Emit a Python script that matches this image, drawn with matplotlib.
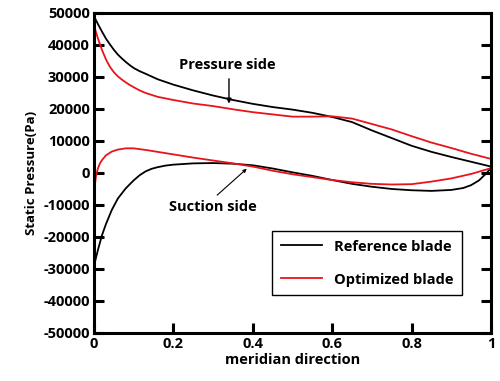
import matplotlib
matplotlib.use("Agg")
import matplotlib.pyplot as plt

plt.rcParams['font.family'] = ['Open Sans', 'DejaVu Sans']
plt.rcParams['font.weight'] = 'bold'

x_ref_ps = [0, 0.01, 0.02, 0.03, 0.04, 0.05, 0.06, 0.07, 0.08, 0.09, 0.10, 0.115, 0.13,
            0.16, 0.2, 0.25, 0.3, 0.35, 0.4, 0.45, 0.5, 0.55, 0.6, 0.65, 0.7, 0.75, 0.8,
            0.85, 0.9, 0.95, 1.0]
y_ref_ps = [49000, 46500, 44200, 42000, 40200, 38500, 37000, 35800, 34700, 33700, 32800,
            31800, 31000, 29300, 27600, 25800, 24200, 22800, 21600, 20600, 19800, 18800,
            17500, 15900, 13300, 10900, 8500, 6600, 5000, 3500, 2000]

x_opt_ps = [0, 0.01, 0.02, 0.03, 0.04, 0.05, 0.06, 0.07, 0.08, 0.09, 0.10, 0.115, 0.13,
            0.16, 0.2, 0.25, 0.3, 0.35, 0.4, 0.45, 0.5, 0.55, 0.6, 0.65, 0.7, 0.75, 0.8,
            0.85, 0.9, 0.95, 1.0]
y_opt_ps = [46000, 42000, 38500, 35500, 33200, 31500, 30200, 29200, 28300, 27500, 26800,
            25800, 25000, 23800, 22800, 21700, 20900, 19900, 19000, 18300, 17600, 17600,
            17700, 17000, 15300, 13600, 11500, 9500, 7800, 6000, 4400]

x_ref_ss = [0, 0.01, 0.02, 0.03, 0.045, 0.06, 0.08, 0.10, 0.115, 0.13, 0.145, 0.16, 0.18,
            0.2, 0.25, 0.3, 0.35, 0.4, 0.45, 0.5, 0.55, 0.6, 0.65, 0.7, 0.75, 0.8, 0.85,
            0.9, 0.93, 0.95, 0.97, 0.985, 1.0]
y_ref_ss = [-29000, -24000, -19500, -16000, -11500, -8000, -4800, -2300, -700, 500, 1300,
            1800, 2300, 2600, 3000, 3100, 2900, 2400, 1400, 200, -900, -2200, -3400, -4300,
            -5000, -5400, -5600, -5300, -4700, -3800, -2300, -500, 1500]

x_opt_ss = [0, 0.005, 0.01, 0.015, 0.02, 0.03, 0.045, 0.06, 0.08, 0.10, 0.13, 0.16, 0.2,
            0.25, 0.3, 0.35, 0.4, 0.45, 0.5, 0.55, 0.6, 0.65, 0.7, 0.75, 0.8, 0.85, 0.9,
            0.95, 1.0]
y_opt_ss = [-6000, -1000, 1500, 3000, 4000, 5500, 6700, 7300, 7700, 7700, 7200, 6600, 5800,
            4800, 3900, 3000, 2000, 700, -400, -1300, -2200, -2900, -3400, -3600, -3500,
            -2700, -1700, -300, 1500]

xticks = [0, 0.2, 0.4, 0.6, 0.8, 1]
xticklabels = ['0', '0.2', '0.4', '0.6', '0.8', '1']
yticks = list(range(-50000, 50001, 10000))

fig = plt.figure(figsize=(5.0, 3.81), dpi=100)
ax = fig.add_axes([0.188, 0.126, 0.794, 0.840])

ax.plot(x_ref_ps, y_ref_ps, color='black', lw=1.3, label='Reference blade')
ax.plot(x_opt_ps, y_opt_ps, color='#e8141a', lw=1.3, label='Optimized blade')
ax.plot(x_ref_ss, y_ref_ss, color='black', lw=1.3)
ax.plot(x_opt_ss, y_opt_ss, color='#e8141a', lw=1.3)

ax.set_xlim(0, 1)
ax.set_ylim(-50000, 50000)
ax.set_xticks(xticks)
ax.set_xticklabels(xticklabels)
ax.set_yticks(yticks)
ax.set_yticklabels([str(v) for v in yticks])
ax.tick_params(direction='in', length=7, width=2.2, labelsize=10.5, pad=3,
               right=True, top=False)
for lab in ax.get_xticklabels() + ax.get_yticklabels():
    lab.set_fontweight('bold')
for s in ax.spines.values():
    s.set_linewidth(2.2)

ax.set_xlabel('meridian direction', fontsize=10.5, fontweight='bold', labelpad=1)
ax.set_ylabel('Static Pressure(Pa)', fontsize=9.5, fontweight='bold', labelpad=4)

ax.annotate('', xy=(0.34, 20800), xytext=(0.34, 30300),
            arrowprops=dict(arrowstyle='-|>', color='black', lw=1.0, mutation_scale=7))
ax.text(0.335, 33800, 'Pressure side', ha='center', va='center', fontsize=10.5,
        fontweight='bold')
ax.annotate('', xy=(0.39, 1900), xytext=(0.305, -7500),
            arrowprops=dict(arrowstyle='-|>', color='black', lw=0.8, mutation_scale=5))
ax.text(0.30, -10700, 'Suction side', ha='center', va='center', fontsize=10.5,
        fontweight='bold')

leg = ax.legend(loc='lower right', bbox_to_anchor=(0.945, 0.095), fancybox=False,
                edgecolor='black', framealpha=1, fontsize=10.5, labelspacing=1.3,
                handlelength=2.8, borderpad=0.6, handletextpad=0.8)
leg.get_frame().set_linewidth(1.0)
for t in leg.get_texts():
    t.set_fontweight('bold')

fig.savefig('out.png', dpi=100)
